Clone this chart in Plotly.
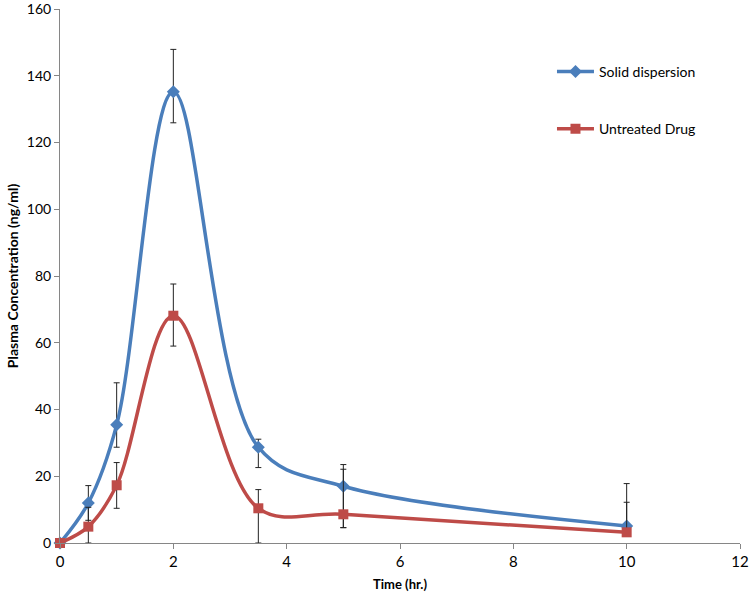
import plotly.graph_objects as go

time = [0, 0.5, 1, 2, 3.5, 5, 10]
solid = [0, 12.0, 35.4, 135.2, 28.7, 17.0, 5.1]
solid_err_plus = [0, 5.2, 12.6, 12.7, 2.4, 6.5, 12.7]
solid_err_minus = [0, 5.2, 6.7, 9.3, 6.1, 12.4, 1.0]
untreated = [0, 4.9, 17.3, 68.1, 10.4, 8.6, 3.2]
untreated_err_plus = [0, 5.8, 6.8, 9.5, 5.6, 13.5, 9.0]
untreated_err_minus = [0, 4.9, 6.9, 9.1, 10.4, 4.0, 1.0]
y_ticks = [0, 20, 40, 60, 80, 100, 120, 140, 160]
x_ticks = [0, 2, 4, 6, 8, 10, 12]

blue = "#4A7EBB"
red = "#BE4B48"
font = "Lato, 'Open Sans', sans-serif"

fig = go.Figure()
fig.add_trace(go.Scatter(
    x=time, y=solid, name="Solid dispersion", mode="lines+markers",
    line=dict(color=blue, width=3.5, shape="spline", smoothing=1),
    marker=dict(symbol="diamond", size=10, color=blue),
    error_y=dict(type="data", array=solid_err_plus, arrayminus=solid_err_minus,
                 color="#222222", thickness=1, width=3),
    cliponaxis=False, legend="legend", showlegend=True,
))
fig.add_trace(go.Scatter(
    x=time, y=untreated, name="Untreated Drug", mode="lines+markers",
    line=dict(color=red, width=3.5, shape="spline", smoothing=1),
    marker=dict(symbol="square", size=10, color=red),
    error_y=dict(type="data", array=untreated_err_plus, arrayminus=untreated_err_minus,
                 color="#222222", thickness=1, width=3),
    cliponaxis=False, legend="legend2", showlegend=True,
))

fig.update_layout(
    width=750, height=596,
    margin=dict(l=60, r=10, t=9, b=53, autoexpand=False),
    showlegend=True,
    paper_bgcolor="white", plot_bgcolor="white",
    font=dict(family=font, size=15, color="#000000"),
    legend=dict(x=0.7235, y=0.882, xanchor="left", yanchor="middle", itemwidth=37,
                bgcolor="rgba(0,0,0,0)", font=dict(size=14, family=font)),
    legend2=dict(x=0.7235, y=0.775, xanchor="left", yanchor="middle", itemwidth=37,
                 bgcolor="rgba(0,0,0,0)", font=dict(size=14, family=font)),
    xaxis=dict(range=[0, 12], tickmode="array", tickvals=x_ticks,
               showgrid=False, zeroline=False, ticklabeloverflow="allow",
               showline=True, linecolor="#868686", linewidth=1,
               ticks="outside", ticklen=5, tickcolor="#868686",
               tickfont=dict(size=15), automargin=False,
               title=dict(text="<b>Time (hr.)</b>", font=dict(size=13), standoff=10)),
    yaxis=dict(range=[0, 160], tickmode="array", tickvals=y_ticks,
               showgrid=False, zeroline=False, ticklabeloverflow="allow",
               showline=True, linecolor="#868686", linewidth=1,
               ticks="outside", ticklen=5, tickcolor="#868686",
               tickfont=dict(size=14), automargin=False,
               title=dict(text="<b>Plasma Concentration (ng/ml)</b>", font=dict(size=14), standoff=4)),
)

fig.write_html("out.html", config={"displayModeBar": False},
               post_script="document.body.style.margin='0';document.body.style.overflow='hidden';")
